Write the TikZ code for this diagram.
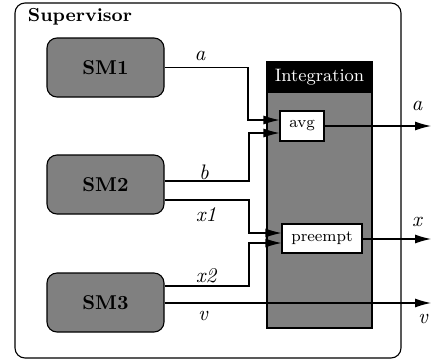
\documentclass[tikz,border=0pt]{standalone}
\usetikzlibrary{arrows.meta}
\definecolor{smgray}{RGB}{128,128,128}

\begin{document}
\begin{tikzpicture}[x=0.5pt,y=-0.5pt,line width=0.55pt,
    sm/.style={draw,fill=smgray,rounded corners=5pt,minimum width=58.5pt,minimum height=29.5pt,font=\bfseries\fontsize{10}{12}\selectfont,inner sep=0pt},
    blk/.style={draw,fill=white,minimum height=15pt,font=\fontsize{8}{9}\selectfont,inner sep=0pt},
    lbl/.style={font=\itshape\fontsize{10.5}{12}\selectfont,inner sep=0pt},
    sig/.style={-{Latex[length=8pt,width=4.5pt]}}]
    \useasboundingbox (0,0) rectangle (433,360);
    % supervisor frame
    \node[draw,rounded corners=5pt,minimum width=193pt,minimum height=177.5pt,inner sep=0pt] (sup) at (208,180.5){};
    \node[font=\bfseries\fontsize{9.4}{11}\selectfont,inner sep=0pt] (suplbl) at (80,17){Supervisor};
    % state machines
    \node[sm] (sm1) at (105.5,67.5){SM1};
    \node[sm] (sm2) at (105.5,184.5){SM2};
    \node[sm] (sm3) at (105.5,302.5){SM3};
    % integration block
    \node[draw,fill=smgray,minimum width=52.5pt,minimum height=133pt,inner sep=0pt] (integ) at (319.5,195){};
    \node[draw,fill=black,text=white,minimum width=52.5pt,minimum height=15pt,inner sep=0pt,font=\fontsize{9}{11}\selectfont] (hdr) at (319.5,77){Integration};
    \node[blk,minimum width=22pt] (avg) at (302,126){avg};
    \node[blk,minimum width=40pt,minimum height=14.5pt] (pre) at (322,238.5){preempt};
    % free ends
    \coordinate (aout) at (431,126);
    \coordinate (xout) at (431,239);
    \coordinate (vout) at (431,303);
    % signals
    \draw[sig] (sm1.east) -| (248,120) -- (avg.west |- 0,120);
    \draw[sig] (sm2.east |- 0,181) -| (249,133) -- (avg.west |- 0,133);
    \draw[sig] (sm2.east |- 0,200) -| (249,233) -- (pre.west |- 0,233);
    \draw[sig] (sm3.east |- 0,286) -| (249,243) -- (pre.west |- 0,243);
    \draw[sig] (sm3.east |- vout) -- (vout);
    \draw[sig] (avg.east) -- (aout);
    \draw[sig] (pre.east |- xout) -- (xout);
    % labels
    \node[lbl] (la) at (200,56){a};
    \node[lbl] (lb) at (204,172){b};
    \node[lbl] (lx1) at (206,215){x1};
    \node[lbl] (lx2) at (206,276){x2};
    \node[lbl] (lv) at (203,316){v};
    \node[lbl] (lao) at (417,106){a};
    \node[lbl] (lxo) at (417,222){x};
    \node[lbl] (lvo) at (423,319){v};
\end{tikzpicture}
\end{document}
